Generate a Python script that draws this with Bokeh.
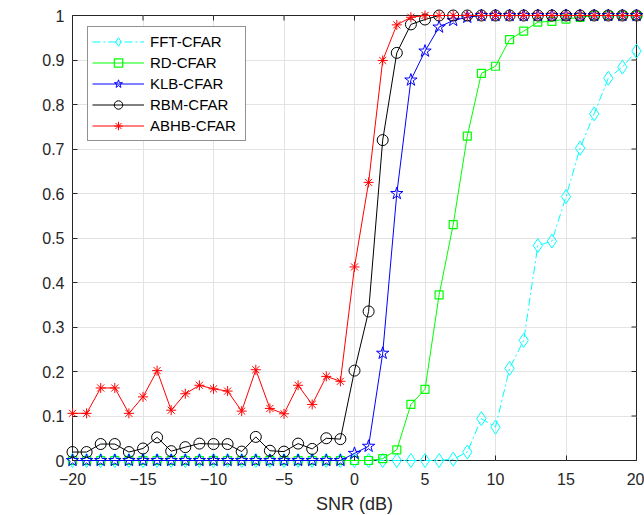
import math
from bokeh.plotting import figure
from bokeh.models import (FixedTicker, Legend, LegendItem, Label, Range1d)
from bokeh.embed import file_html
from bokeh.resources import INLINE

snr = list(range(-20, 21))

fft_cfar = [0.0] * 27 + [0.003, 0.019, 0.094, 0.075, 0.207, 0.27, 0.483, 0.493,
                         0.593, 0.702, 0.779, 0.859, 0.884, 0.92]
rd_cfar = [0.0] * 22 + [0.004, 0.024, 0.126, 0.16, 0.372, 0.53, 0.729, 0.87, 0.886,
                        0.946, 0.965, 0.985, 0.987, 0.992, 0.996] + [1.0] * 4
klb_cfar = [0.0] * 20 + [0.016, 0.032, 0.241, 0.6, 0.855, 0.92, 0.974, 0.989, 0.996] + [1.0] * 12
rbm_cfar = [0.019, 0.019, 0.037, 0.037, 0.019, 0.027, 0.052, 0.021, 0.030, 0.038,
            0.037, 0.037, 0.020, 0.053, 0.022, 0.020, 0.038, 0.026, 0.050, 0.048,
            0.202, 0.335, 0.72, 0.916, 0.98, 0.991] + [1.0] * 15
abhb_cfar = [0.106, 0.106, 0.163, 0.163, 0.106, 0.143, 0.202, 0.113, 0.150, 0.169,
             0.161, 0.156, 0.111, 0.204, 0.117, 0.105, 0.169, 0.126, 0.189, 0.178,
             0.435, 0.625, 0.899, 0.979, 0.996] + [1.0] * 16

x_ticks = [-20, -15, -10, -5, 0, 5, 10, 15, 20]
y_ticks = [0, 0.1, 0.2, 0.3, 0.4, 0.5, 0.6, 0.7, 0.8, 0.9, 1]
y_tick_labels = ["0", "0.1", "0.2", "0.3", "0.4", "0.5", "0.6", "0.7", "0.8", "0.9", "1"]

FONT = "Liberation Sans"
AX = "#262626"

p = figure(output_backend="svg", toolbar_location=None,
           frame_width=564, frame_height=445,
           min_border_left=72, min_border_top=15, min_border_right=8, min_border_bottom=50,
           x_range=Range1d(-20, 20), y_range=Range1d(0, 1))
p.outline_line_color = AX
p.outline_line_width = 1
p.background_fill_color = "white"
p.border_fill_color = "white"

for ax in (p.xaxis[0], p.yaxis[0]):
    ax.axis_line_color = None
    ax.major_tick_in = 5
    ax.major_tick_out = 0
    ax.minor_tick_in = 0
    ax.minor_tick_out = 0
    ax.major_tick_line_color = AX
    ax.major_label_text_font = FONT
    ax.major_label_text_font_size = "16px"
    ax.major_label_text_color = AX

p.xaxis.ticker = FixedTicker(ticks=x_ticks)
p.yaxis.ticker = FixedTicker(ticks=y_ticks)
p.yaxis.major_label_overrides = {t: l for t, l in zip(y_ticks, y_tick_labels)}
p.xaxis.major_label_standoff = 12
p.yaxis.major_label_standoff = 8
p.xaxis.axis_label = "SNR (dB)"
p.xaxis.axis_label_text_font = FONT
p.xaxis.axis_label_text_font_size = "18px"
p.xaxis.axis_label_text_font_style = "normal"
p.xaxis.axis_label_text_color = AX
p.xaxis.axis_label_standoff = 6

p.xgrid.ticker = FixedTicker(ticks=x_ticks)
p.ygrid.ticker = FixedTicker(ticks=y_ticks)
p.grid.grid_line_color = "#e3e3e3"
p.grid.grid_line_width = 1

# box ticks on top and right edges (half of each dash is clipped by the frame)
p.scatter(x_ticks, [y_ticks[-1]] * len(x_ticks), marker="dash", size=10,
          angle=math.pi / 2, line_color=AX, line_width=1)
p.scatter([x_ticks[-1]] * len(y_ticks), y_ticks, marker="dash", size=10,
          line_color=AX, line_width=1)

series = [
    ("FFT-CFAR", fft_cfar, "#00ffff", "diamond", 14, "8 3 2 3"),
    ("RD-CFAR", rd_cfar, "#00ff00", "square", 8, "solid"),
    ("KLB-CFAR", klb_cfar, "#0000ff", "star", 13, "solid"),
    ("RBM-CFAR", rbm_cfar, "#000000", "circle", 11, "solid"),
    ("ABHB-CFAR", abhb_cfar, "#ff0000", "asterisk", 10, "solid"),
]

items = []
for name, ys, color, marker, size, dash in series:
    lr = p.line(snr, ys, line_color=color, line_width=1, line_dash=dash)
    mr = p.scatter(snr, ys, marker=marker, size=size, line_color=color,
                   fill_color=None, line_width=1.2 if marker == "square" else 1)
    lr.level = "guide"
    mr.level = "guide"
    items.append(LegendItem(label=name, renderers=[lr, mr]))

legend = Legend(items=items, location=(15, 319), margin=0,
                border_line_color=AX, border_line_width=1,
                background_fill_color="white", background_fill_alpha=1,
                label_text_font=FONT, label_text_font_size="15px",
                label_text_color="#000000",
                glyph_width=52, glyph_height=21, label_height=21, label_width=91,
                label_standoff=6, spacing=0, padding=4,
                inactive_fill_alpha=0, item_background_policy="none",
                click_policy="none")
p.add_layout(legend)

# y-axis label P_d (with subscript d)
p.add_layout(Label(x=-52, y=0.49, x_units="screen", y_units="data", text="P",
                   angle=math.pi / 2, text_align="center", text_baseline="alphabetic",
                   text_font=FONT, text_font_size="18px", text_color=AX))
p.add_layout(Label(x=-47, y=0.515, x_units="screen", y_units="data", text="d",
                   angle=math.pi / 2, text_align="left", text_baseline="alphabetic",
                   text_font=FONT, text_font_size="12px", text_color=AX))

open("out.html", "w").write(file_html(p, INLINE))
